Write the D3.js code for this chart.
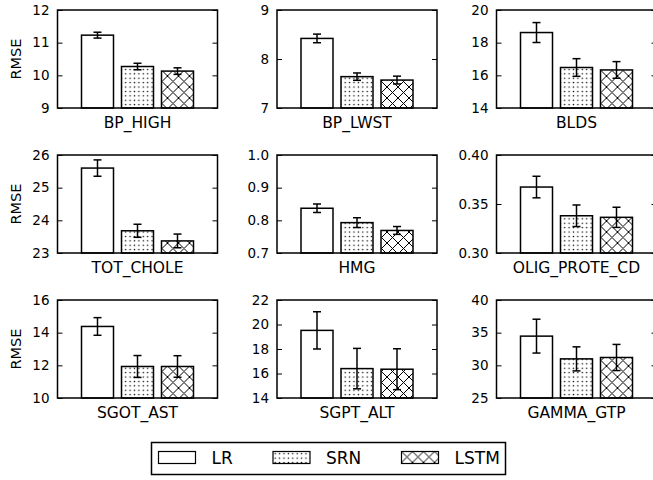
<!DOCTYPE html>
<html>
<head>
<meta charset="utf-8">
<script src="https://cdn.jsdelivr.net/npm/d3@7"></script>
<style>
    body { margin: 0; background: #fff; }
    svg { font-family: "DejaVu Sans", sans-serif; }
</style>
</head>
<body>
<svg id="chart" width="653" height="480"></svg>
<script>
// data
var models = ["LR", "SRN", "LSTM"]
var panels = ["BP_HIGH", "BP_LWST", "BLDS", "TOT_CHOLE", "HMG", "OLIG_PROTE_CD", "SGOT_AST", "SGPT_ALT", "GAMMA_GTP"]

var rmse = [
    [11.23, 10.27, 10.13],
    [8.42, 7.64, 7.57],
    [18.62, 16.48, 16.33],
    [25.60, 23.68, 23.37],
    [0.837, 0.793, 0.769],
    [0.3673, 0.338, 0.3364],
    [14.38, 11.93, 11.93],
    [19.52, 16.40, 16.35],
    [34.47, 30.99, 31.20]
]
var rmseErr = [
    [0.09, 0.10, 0.10],
    [0.088, 0.075, 0.08],
    [0.61, 0.54, 0.51],
    [0.25, 0.20, 0.21],
    [0.013, 0.015, 0.012],
    [0.011, 0.011, 0.0103],
    [0.54, 0.67, 0.66],
    [1.52, 1.65, 1.67],
    [2.59, 1.84, 2.0]
]
var yDomains = [[9, 12], [7, 9], [14, 20], [23, 26], [0.7, 1.0], [0.30, 0.40], [10, 16], [14, 22], [25, 40]]
var yTicks = [
    [9, 10, 11, 12],
    [7, 8, 9],
    [14, 16, 18, 20],
    [23, 24, 25, 26],
    [0.7, 0.8, 0.9, 1.0],
    [0.30, 0.35, 0.40],
    [10, 12, 14, 16],
    [14, 16, 18, 20, 22],
    [25, 30, 35, 40]
]
var tickFormats = ["d", "d", "d", "d", ".1f", ".2f", "d", "d", "d"]

var svg = d3.select("#chart")
var fills = ["#fff", "url(#dots)", "url(#cross)"]

// hatch patterns
var defs = svg.append("defs")
var dots = defs.append("pattern").attr("id", "dots")
    .attr("patternUnits", "userSpaceOnUse").attr("width", 4.4).attr("height", 4.4)
dots.append("rect").attr("width", 4.4).attr("height", 4.4).attr("fill", "#fff")
dots.append("circle").attr("cx", 2.2).attr("cy", 2.2).attr("r", 0.75).attr("fill", "#000")

var cross = defs.append("pattern").attr("id", "cross")
    .attr("patternUnits", "userSpaceOnUse").attr("width", 11).attr("height", 11)
cross.append("rect").attr("width", 11).attr("height", 11).attr("fill", "#fff")
cross.append("path").attr("d", "M0,0L11,11M0,11L11,0M-1,1L1,-1M10,12L12,10")
    .attr("stroke", "#000").attr("stroke-width", 1)

var axW = 160, axH = 98
var colX = [57.5, 277, 496.5]
var rowY = [10, 155, 300]

function drawPanel(i) {
    var x0 = colX[i % 3], y0 = rowY[Math.floor(i / 3)]
    var g = svg.append("g").attr("transform", "translate(" + x0 + "," + y0 + ")")

    var x = d3.scaleLinear().domain([-1, 3]).range([0, axW])
    var y = d3.scaleLinear().domain(yDomains[i]).range([axH, 0])

    var rows = models.map(function(m, j) {
        return {model: m, idx: j, v: rmse[i][j], e: rmseErr[i][j]}
    })

    g.selectAll("rect.bar").data(rows).enter().append("rect")
        .attr("class", "bar")
        .attr("x", function(d) { return x(d.idx - 0.4) })
        .attr("width", x(0.4) - x(-0.4))
        .attr("y", function(d) { return y(d.v) })
        .attr("height", function(d) { return axH - y(d.v) })
        .attr("fill", function(d) { return fills[d.idx] })
        .attr("stroke", "#000").attr("stroke-width", 1.5)

    // error bars
    var eb = g.selectAll("g.err").data(rows).enter().append("g").attr("class", "err")
        .attr("stroke", "#000").attr("stroke-width", 1.5)
    eb.append("line")
        .attr("x1", function(d) { return x(d.idx) }).attr("x2", function(d) { return x(d.idx) })
        .attr("y1", function(d) { return y(d.v - d.e) }).attr("y2", function(d) { return y(d.v + d.e) })
    eb.append("line")
        .attr("x1", function(d) { return x(d.idx) - 4 }).attr("x2", function(d) { return x(d.idx) + 4 })
        .attr("y1", function(d) { return y(d.v + d.e) }).attr("y2", function(d) { return y(d.v + d.e) })
    eb.append("line")
        .attr("x1", function(d) { return x(d.idx) - 4 }).attr("x2", function(d) { return x(d.idx) + 4 })
        .attr("y1", function(d) { return y(d.v - d.e) }).attr("y2", function(d) { return y(d.v - d.e) })

    // left axis, ticks pointing inward
    var left = g.append("g").call(
        d3.axisLeft(y).tickValues(yTicks[i]).tickFormat(d3.format(tickFormats[i]))
            .tickSizeInner(-5).tickSizeOuter(0).tickPadding(8)
    )
    left.select(".domain").remove()
    left.selectAll("line").attr("stroke-width", 1)
    left.selectAll("text").attr("font-size", "13.5px").attr("fill", "#000")
        .attr("font-family", "DejaVu Sans")

    var right = g.append("g").attr("transform", "translate(" + axW + ",0)").call(
        d3.axisRight(y).tickValues(yTicks[i]).tickFormat("").tickSizeInner(-5).tickSizeOuter(0)
    )
    right.select(".domain").remove()

    g.append("rect").attr("width", axW).attr("height", axH)
        .attr("fill", "none").attr("stroke", "#000").attr("stroke-width", 1.5)

    g.append("text").attr("x", x(1)).attr("y", axH + 20)
        .attr("text-anchor", "middle").attr("font-size", "15.5px")
        .text(panels[i])

    if (i % 3 === 0) {
        g.append("text")
            .attr("transform", "translate(" + (21 - x0) + "," + (axH / 2) + ") rotate(-90)")
            .attr("text-anchor", "middle").attr("font-size", "14.5px")
            .text("RMSE")
    }
}

for (var i = 0; i < panels.length; i++) {
    drawPanel(i)
}

// legend
var legend = svg.append("g")
legend.append("rect").attr("x", 151.5).attr("y", 442.5).attr("width", 354).attr("height", 32)
    .attr("fill", "#fff").attr("stroke", "#000").attr("stroke-width", 1.5)
var legX = [158.5, 273, 401.5]
var item = legend.selectAll("g.item").data(models).enter().append("g").attr("class", "item")
    .attr("transform", function(d, j) { return "translate(" + legX[j] + ",451.5)" })
item.append("rect").attr("width", 37).attr("height", 12)
    .attr("fill", function(d, j) { return fills[j] })
    .attr("stroke", "#000").attr("stroke-width", 1.2)
item.append("text").attr("x", 53).attr("y", 12)
    .attr("font-size", "17px")
    .text(function(d) { return d })
</script>
</body>
</html>
